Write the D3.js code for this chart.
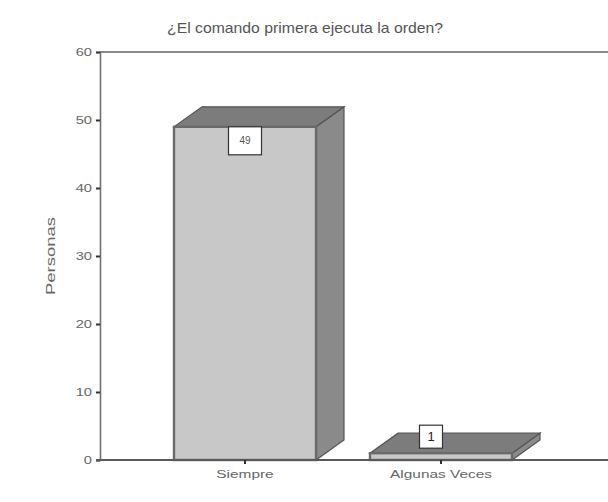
<!DOCTYPE html>
<html>
<head>
<meta charset="utf-8">
<script src="https://cdn.jsdelivr.net/npm/d3@7"></script>
<style>
  html, body { margin: 0; padding: 0; background: #fff; }
  svg { display: block; font-family: "Liberation Sans", Arial, sans-serif; }
</style>
</head>
<body>
<svg id="chart" width="608" height="502"></svg>
<script>
// Respuestas a la pregunta
const categories = ["Siempre", "Algunas Veces"];
const values = [49, 1];
const yTicks = [0, 10, 20, 30, 40, 50, 60];
const title = "¿El comando primera ejecuta la orden?";
const yLabel = "Personas";

const svg = d3.select("#chart");
const plotLeft = 100, plotRight = 608, plotTop = 52, plotBottom = 460;
const depthX = 28, depthY = -20;
const textStretch = 1.4;

const y = d3.scaleLinear().domain([0, 60]).range([plotBottom, plotTop]);
const x = d3.scaleBand().domain(categories).range([147, 539])
  .paddingInner(0.2755).paddingOuter(0.2755 / 2);

// Title
svg.append("text")
  .attr("x", 305).attr("y", 33)
  .attr("text-anchor", "middle")
  .attr("font-size", 15)
  .attr("textLength", 276).attr("lengthAdjust", "spacingAndGlyphs")
  .attr("fill", "#555")
  .text(title);

// Top frame line
svg.append("line")
  .attr("x1", plotLeft).attr("x2", plotRight)
  .attr("y1", plotTop).attr("y2", plotTop)
  .attr("stroke", "#8c8c8c").attr("stroke-width", 2.2);

// Y axis
const yAxis = d3.axisLeft(y).tickValues(yTicks).tickSize(4).tickPadding(4);
const gy = svg.append("g").attr("transform", `translate(${plotLeft},0)`).call(yAxis);
gy.select(".domain").attr("stroke", "#707070").attr("stroke-width", 1.6);
gy.selectAll(".tick line").attr("stroke", "#333").attr("stroke-width", 2);
gy.selectAll(".tick text")
  .attr("font-size", 10.5).attr("fill", "#666")
  .attr("font-family", "'Liberation Sans', Arial, sans-serif")
  .attr("x", -8 / textStretch)
  .attr("transform", `scale(${textStretch},1)`);

svg.append("text")
  .attr("transform", "translate(55,256) rotate(-90)")
  .attr("text-anchor", "middle")
  .attr("font-size", 13)
  .attr("textLength", 78).attr("lengthAdjust", "spacingAndGlyphs")
  .attr("fill", "#666")
  .text(yLabel);

// 3D bars
const bars = svg.append("g");
categories.forEach((c, i) => {
  const x0 = x(c), x1 = x(c) + x.bandwidth();
  const yt = y(values[i]), yb = y(0);
  const g = bars.append("g");
  // side face
  g.append("path")
    .attr("d", `M${x1},${yt} L${x1 + depthX},${yt + depthY} L${x1 + depthX},${yb + depthY} L${x1},${yb} Z`)
    .attr("fill", "#8a8a8a").attr("stroke", "#555").attr("stroke-width", 1.2);
  // top face
  g.append("path")
    .attr("d", `M${x0},${yt} L${x1},${yt} L${x1 + depthX},${yt + depthY} L${x0 + depthX},${yt + depthY} Z`)
    .attr("fill", "#7c7c7c").attr("stroke", "#555").attr("stroke-width", 1.2);
  // front face
  g.append("rect")
    .attr("x", x0).attr("y", yt)
    .attr("width", x.bandwidth()).attr("height", yb - yt)
    .attr("fill", "#c8c8c8").attr("stroke", "#6a6a6a").attr("stroke-width", 2.4);
});

// Baseline
svg.append("line")
  .attr("x1", plotLeft - 4).attr("x2", plotRight)
  .attr("y1", plotBottom).attr("y2", plotBottom)
  .attr("stroke", "#5a5a5a").attr("stroke-width", 2);

// X ticks and labels
categories.forEach(c => {
  const cx = x(c) + x.bandwidth() / 2;
  svg.append("line")
    .attr("x1", cx).attr("x2", cx).attr("y1", plotBottom).attr("y2", plotBottom + 4)
    .attr("stroke", "#333").attr("stroke-width", 2);
  svg.append("text")
    .attr("transform", `translate(${cx},478) scale(${textStretch},1)`)
    .attr("text-anchor", "middle")
    .attr("font-size", 11).attr("fill", "#666")
    .text(c);
});

// Value labels
const labelBoxes = [
  { w: 33, h: 28, dx: 0, dy: 0, fs: 10, col: "#555" },
  { w: 23, h: 23, dx: -10, dy: -28, fs: 13, col: "#222" }
];
categories.forEach((c, i) => {
  const b = labelBoxes[i];
  const cx = x(c) + x.bandwidth() / 2 + b.dx;
  const yt = y(values[i]) + b.dy;
  svg.append("rect")
    .attr("x", cx - b.w / 2).attr("y", yt)
    .attr("width", b.w).attr("height", b.h)
    .attr("fill", "#fff").attr("stroke", "#333").attr("stroke-width", 1.2);
  svg.append("text")
    .attr("x", cx).attr("y", yt + b.h / 2 + b.fs * 0.36)
    .attr("text-anchor", "middle")
    .attr("font-size", b.fs).attr("fill", b.col)
    .text(values[i]);
});
</script>
</body>
</html>
